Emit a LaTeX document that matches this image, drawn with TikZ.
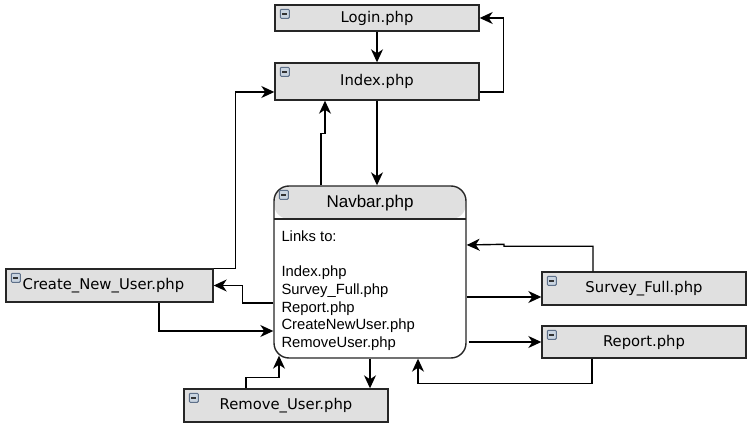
\documentclass[tikz,border=0pt]{standalone}
\usepackage{fontspec}
\usepackage{tikz}
\usetikzlibrary{arrows.meta}
\newfontfamily\boxfont{DejaVu Sans}
\newfontfamily\listfont{Liberation Sans}
\definecolor{boxgrey}{HTML}{E0E0E0}
\definecolor{iconfill}{HTML}{C9D4E0}
\definecolor{icondraw}{HTML}{5E7089}
\newcommand{\minusicon}[1]{%
  \filldraw[fill=iconfill,draw=icondraw,line width=1pt,rounded corners=1pt] ([xshift=6pt,yshift=-5pt]#1.north west) rectangle ++(9,9);
  \draw[black!80,line width=1.5pt] ([xshift=8pt,yshift=-9.5pt]#1.north west) -- ++(5,0);}

\begin{document}
\begin{tikzpicture}[x=1pt,y=-1pt,
    box/.style={draw=black!85,fill=boxgrey,line width=1.4pt,minimum width=204pt,minimum height=33pt,inner sep=0pt,font=\boxfont\fontsize{14.8}{17}\selectfont},
    link/.style={line width=1.4pt,-{Stealth[length=13pt,width=12pt,inset=4pt]}}]
        \useasboundingbox (0,0) rectangle (756,430);

        \node[box,minimum height=26pt] (login) at (377,18) {Login.php};
        \node[box,minimum height=37pt] (index) at (377,81.5) {Index.php};
        \node[box,minimum width=207pt] (create) at (109.5,285.5) {\hspace{-12pt}Create\_New\_User.php};
        \node[box] (survey) at (644,288.5) {Survey\_Full.php};
        \node[box,minimum height=32pt] (report) at (644,342) {Report.php};
        \node[box] (remove) at (286,405.5) {Remove\_User.php};

        \node[draw=black!85,fill=white,line width=1.4pt,rounded corners=15pt,minimum width=192pt,minimum height=172pt,inner sep=0pt,
            path picture={\fill[boxgrey] (path picture bounding box.north west) rectangle ([yshift=-33pt]path picture bounding box.north east);
                \draw[black!85,line width=1.4pt] ([yshift=-33pt]path picture bounding box.north west) -- ([yshift=-33pt]path picture bounding box.north east);}]
            (navbar) at (370,272) {};
        \node[font=\listfont\fontsize{17}{19}\selectfont] (navtitle) at ([yshift=-18pt]navbar.north) {Navbar.php};
        \node[anchor=north west,align=left,inner sep=0pt,font=\listfont\fontsize{14.8}{17.7}\selectfont] (navlinks) at ([xshift=8pt,yshift=-45pt]navbar.north west)
            {Links to:\\ \mbox{}\\Index.php\\Survey\_Full.php\\Report.php\\CreateNewUser.php\\RemoveUser.php};

        \foreach \n in {login,index,create,survey,report,remove,navbar} {\minusicon{\n}}

        \draw[link] (login.south) -- (index.north);
        \draw[link] ([yshift=-10.5pt]index.east) -- ++(24,0) |- (login.east);
        \draw[link] (index.south) -- (index.south |- navbar.north);
        \draw[link] ([xshift=-49pt]navbar.north) -- ++(0,-52) -- ++(4,0) -- ([xshift=-52pt]index.south);
        \draw[link] (create.north east) -- ++(22,0) |- ([yshift=-10.5pt]index.west);
        \draw[link] ([yshift=-31pt]navbar.west) -- ++(-31,0) |- (create.east);
        \draw[link] ([xshift=49.5pt]create.south) |- ([yshift=-59pt]navbar.west);
        \draw[link] ([xshift=-40pt]remove.north) -- ++(0,-11) -| ([xshift=-91pt,yshift=3pt]navbar.south);
        \draw[link] (navbar.south) -- (navbar.south |- remove.north);
        \draw[link] ([xshift=-52pt]report.south) -- ++(0,25) -| ([xshift=48pt]navbar.south);
        \draw[link] ([yshift=-25pt]navbar.east) -- ([yshift=-25pt]navbar.east -| survey.west);
        \draw[link] ([xshift=2pt,yshift=-70pt]navbar.east) -- ([yshift=-70pt]navbar.east -| report.west);
        \draw[link] ([xshift=-51pt]survey.north) -- ++(0,-25) -- ++(-89,0) -- ++(0,-2) -- ([yshift=27pt]navbar.east);
\end{tikzpicture}
\end{document}
